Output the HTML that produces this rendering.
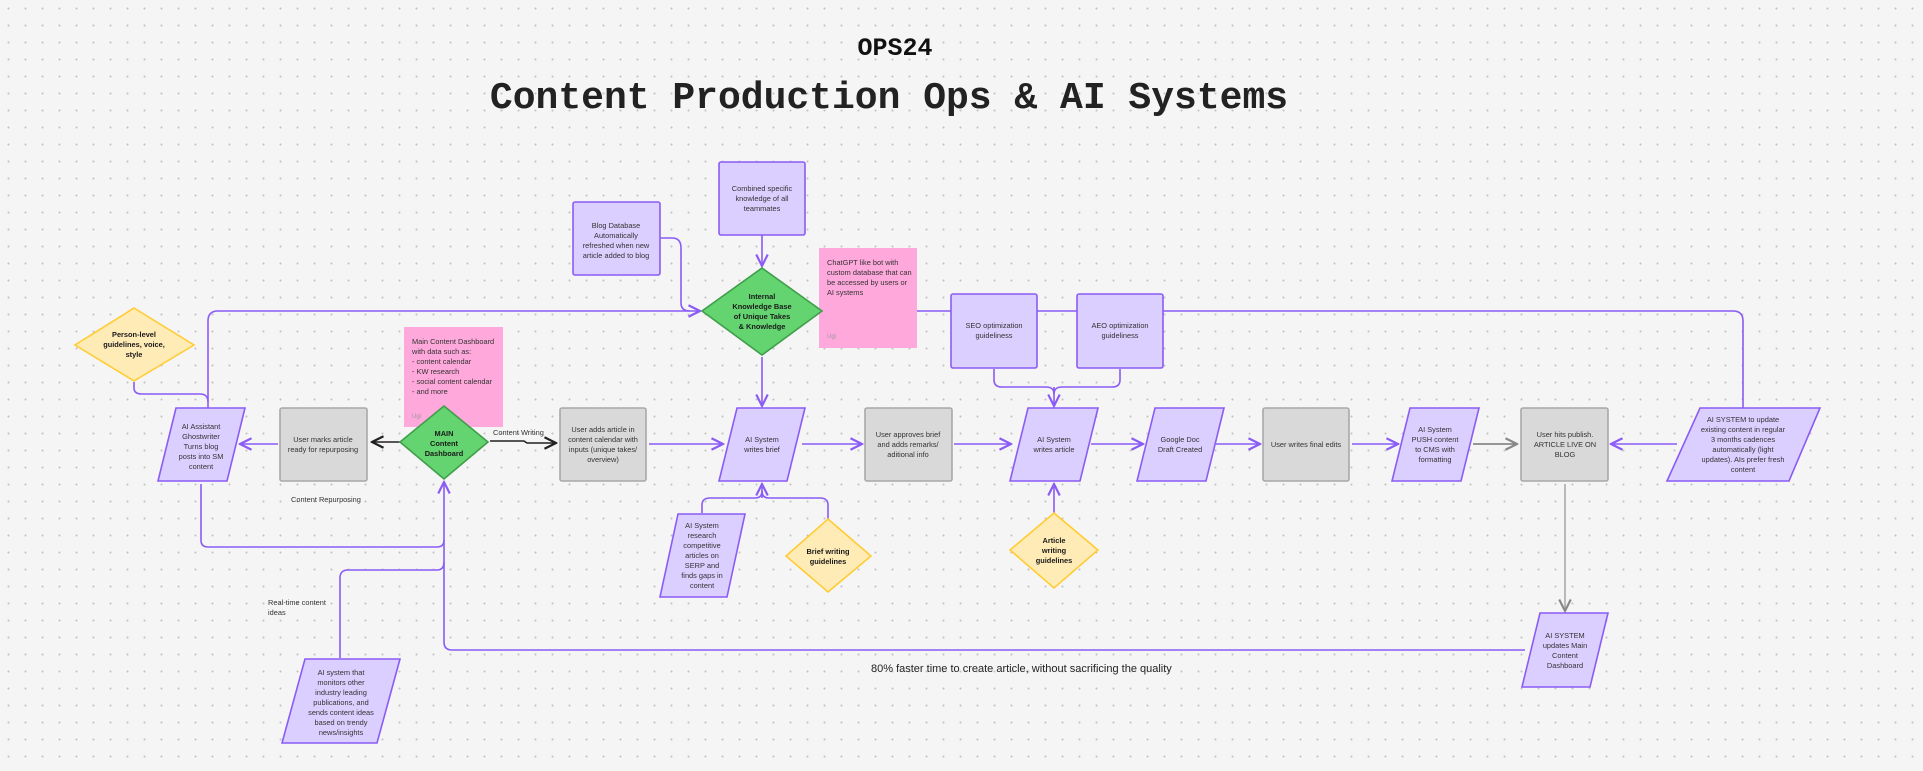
<!DOCTYPE html>
<html><head><meta charset="utf-8"><style>
html,body{margin:0;padding:0;}
body{width:1923px;height:771px;overflow:hidden;background:#f5f5f5;
background-image:radial-gradient(circle,#c4c4c4 0.9px,transparent 1.2px);background-size:17px 17px;}
svg{position:absolute;left:0;top:0;}
text{font-family:"Liberation Sans",sans-serif;fill:#333;}
</style></head><body>
<svg width="1923" height="771" viewBox="0 0 1923 771">
<defs>
<marker id="a" viewBox="0 0 10 10" refX="9" refY="5" markerWidth="9" markerHeight="9" orient="auto-start-reverse"><path d="M1 1 L9 5 L1 9" fill="none" stroke="#8a5cf5" stroke-width="1.5"/></marker>
<marker id="k" viewBox="0 0 10 10" refX="9" refY="5" markerWidth="9" markerHeight="9" orient="auto"><path d="M1 1 L9 5 L1 9" fill="none" stroke="#222" stroke-width="1.5"/></marker>
<marker id="g" viewBox="0 0 10 10" refX="9" refY="5" markerWidth="9" markerHeight="9" orient="auto"><path d="M1 1 L9 5 L1 9" fill="none" stroke="#888" stroke-width="1.5"/></marker>
</defs>
<text x="895" y="55" text-anchor="middle" font-weight="bold" font-size="25" style="font-family:'Liberation Mono',monospace;fill:#111">OPS24</text>
<text x="889" y="108" text-anchor="middle" font-weight="bold" font-size="38" style="font-family:'Liberation Mono',monospace;fill:#222">Content Production Ops &amp; AI Systems</text>

<g fill="none" stroke="#8a5cf5" stroke-width="1.6">
<path d="M208 408 V321 Q208 311 218 311 H700" marker-end="url(#a)"/>
<path d="M1743 408 V321 Q1743 311 1733 311 H824" marker-end="url(#a)"/>
<path d="M660 238 H672 Q681 238 681 248 V303 Q681 311 690 311" />
<path d="M762 235 V266" marker-end="url(#a)"/>
<path d="M762 357 V406" marker-end="url(#a)"/>
<path d="M134 382 V388 Q134 394 142 394 H200 Q208 394 208 402"/>
<path d="M278 444 H240" marker-end="url(#a)"/>
<path d="M649 444 H723" marker-end="url(#a)"/>
<path d="M802 444 H862" marker-end="url(#a)"/>
<path d="M954 444 H1011" marker-end="url(#a)"/>
<path d="M1091 444 H1143" marker-end="url(#a)"/>
<path d="M1216 444 H1260" marker-end="url(#a)"/>
<path d="M1352 444 H1398" marker-end="url(#a)"/>
<path d="M1677 444 H1611" marker-end="url(#a)"/>
<path d="M201 484 V540 Q201 547 208 547 H437 Q444 547 444 540 V482" marker-end="url(#a)"/>
<path d="M340 658 V578 Q340 570 348 570 H437 Q444 570 444 562"/>
<path d="M444 540 V642 Q444 650 452 650 H1525"/>
<path d="M702 513 V505 Q702 498 710 498 H755 Q762 498 762 491"/>
<path d="M828 519 V505 Q828 498 820 498 H769 Q762 498 762 491"/>
<path d="M762 498 V484" marker-end="url(#a)"/>
<path d="M994 369 V380 Q994 387 1002 387 H1046 Q1054 387 1054 394"/>
<path d="M1120 369 V380 Q1120 387 1112 387 H1062 Q1054 387 1054 394"/>
<path d="M1054 387 V406" marker-end="url(#a)"/>
<path d="M1054 513 V484" marker-end="url(#a)"/>
</g>
<path d="M1473 444 H1517" stroke="#777" stroke-width="1.6" fill="none" marker-end="url(#g)"/>
<path d="M1565 484 V611" stroke="#aaa" stroke-width="1.6" fill="none" marker-end="url(#g)"/>
<path d="M400 442 H372" stroke="#222" stroke-width="1.6" fill="none" marker-end="url(#k)"/>
<path d="M490 441 H524 L527 443 H556" stroke="#222" stroke-width="1.6" fill="none" marker-end="url(#k)"/>

<rect x="819" y="248" width="98" height="100" fill="#ffa8dc"/>
<rect x="404" y="327" width="99" height="100" fill="#ffa8dc"/>

<g stroke="#8a5cf5" stroke-width="1.6" fill="#dbcfff">
<rect x="573" y="202" width="87" height="73" rx="2"/>
<rect x="719" y="162" width="86" height="73" rx="2"/>
<rect x="951" y="294" width="86" height="74" rx="2"/>
<rect x="1077" y="294" width="86" height="74" rx="2"/>
<polygon points="176,408 245,408 227,481 158,481"/>
<polygon points="737,408 805,408 787,481 719,481"/>
<polygon points="1028,408 1098,408 1080,481 1010,481"/>
<polygon points="1155,408 1224,408 1206,481 1137,481"/>
<polygon points="1410,408 1479,408 1461,481 1392,481"/>
<polygon points="1700,408 1820,408 1789,481 1667,481"/>
<polygon points="1540,613 1608,613 1590,687 1522,687"/>
<polygon points="678,514 745,514 727,597 660,597"/>
<polygon points="305,659 400,659 377,743 282,743"/>
</g>
<g stroke="#a8a8a8" stroke-width="1.6" fill="#d9d9d9">
<rect x="280" y="408" width="87" height="73" rx="2"/>
<rect x="560" y="408" width="86" height="73" rx="2"/>
<rect x="865" y="408" width="87" height="73" rx="2"/>
<rect x="1263" y="408" width="86" height="73" rx="2"/>
<rect x="1521" y="408" width="87" height="73" rx="2"/>
</g>
<g stroke="#3f9e4a" stroke-width="1.6" fill="#63d46f">
<polygon points="762,268 822,311 762,355 702,311"/>
<polygon points="444,406 488,442 444,479 400,442"/>
</g>
<g stroke="#ffcc33" stroke-width="1.6" fill="#ffebb5">
<polygon points="134,308 194,345 134,381 75,345"/>
<polygon points="828,519 871,556 828,592 786,556"/>
<polygon points="1054,513 1098,550 1054,588 1010,550"/>
</g>

<g font-size="7.4" text-anchor="middle">
<text x="616" y="228"><tspan x="616">Blog Database</tspan><tspan x="616" dy="10">Automatically</tspan><tspan x="616" dy="10">refreshed when new</tspan><tspan x="616" dy="10">article added to blog</tspan></text>
<text x="762" y="191"><tspan x="762">Combined specific</tspan><tspan x="762" dy="10">knowledge of all</tspan><tspan x="762" dy="10">teammates</tspan></text>
<text x="762" y="299" font-weight="bold" style="fill:#1a1a1a"><tspan x="762">Internal</tspan><tspan x="762" dy="10">Knowledge Base</tspan><tspan x="762" dy="10">of Unique Takes</tspan><tspan x="762" dy="10">&amp; Knowledge</tspan></text>
<text x="994" y="328"><tspan x="994">SEO optimization</tspan><tspan x="994" dy="10">guideliness</tspan></text>
<text x="1120" y="328"><tspan x="1120">AEO optimization</tspan><tspan x="1120" dy="10">guideliness</tspan></text>
<text x="134" y="337" font-weight="bold" style="fill:#1a1a1a"><tspan x="134">Person-level</tspan><tspan x="134" dy="10">guidelines, voice,</tspan><tspan x="134" dy="10">style</tspan></text>
<text x="444" y="436" font-weight="bold" style="fill:#1a1a1a"><tspan x="444">MAIN</tspan><tspan x="444" dy="10">Content</tspan><tspan x="444" dy="10">Dashboard</tspan></text>
<text x="201" y="429"><tspan x="201">AI Assistant</tspan><tspan x="201" dy="10">Ghostwriter</tspan><tspan x="201" dy="10">Turns blog</tspan><tspan x="201" dy="10">posts into SM</tspan><tspan x="201" dy="10">content</tspan></text>
<text x="323" y="442"><tspan x="323">User marks article</tspan><tspan x="323" dy="10">ready for repurposing</tspan></text>
<text x="603" y="432"><tspan x="603">User adds article in</tspan><tspan x="603" dy="10">content calendar with</tspan><tspan x="603" dy="10">inputs (unique takes/</tspan><tspan x="603" dy="10">overview)</tspan></text>
<text x="762" y="442"><tspan x="762">AI System</tspan><tspan x="762" dy="10">writes brief</tspan></text>
<text x="908" y="437"><tspan x="908">User approves brief</tspan><tspan x="908" dy="10">and adds remarks/</tspan><tspan x="908" dy="10">aditional info</tspan></text>
<text x="1054" y="442"><tspan x="1054">AI System</tspan><tspan x="1054" dy="10">writes article</tspan></text>
<text x="1180" y="442"><tspan x="1180">Google Doc</tspan><tspan x="1180" dy="10">Draft Created</tspan></text>
<text x="1306" y="447">User writes final edits</text>
<text x="1435" y="432"><tspan x="1435">AI System</tspan><tspan x="1435" dy="10">PUSH content</tspan><tspan x="1435" dy="10">to CMS with</tspan><tspan x="1435" dy="10">formatting</tspan></text>
<text x="1565" y="437"><tspan x="1565">User hits publish.</tspan><tspan x="1565" dy="10">ARTICLE LIVE ON</tspan><tspan x="1565" dy="10">BLOG</tspan></text>
<text x="1743" y="422"><tspan x="1743">AI SYSTEM to update</tspan><tspan x="1743" dy="10">existing content in regular</tspan><tspan x="1743" dy="10">3 months cadences</tspan><tspan x="1743" dy="10">automatically (light</tspan><tspan x="1743" dy="10">updates). AIs prefer fresh</tspan><tspan x="1743" dy="10">content</tspan></text>
<text x="1565" y="638"><tspan x="1565">AI SYSTEM</tspan><tspan x="1565" dy="10">updates Main</tspan><tspan x="1565" dy="10">Content</tspan><tspan x="1565" dy="10">Dashboard</tspan></text>
<text x="702" y="528"><tspan x="702">AI System</tspan><tspan x="702" dy="10">research</tspan><tspan x="702" dy="10">competitive</tspan><tspan x="702" dy="10">articles on</tspan><tspan x="702" dy="10">SERP and</tspan><tspan x="702" dy="10">finds gaps in</tspan><tspan x="702" dy="10">content</tspan></text>
<text x="828" y="554" font-weight="bold" style="fill:#1a1a1a"><tspan x="828">Brief writing</tspan><tspan x="828" dy="10">guidelines</tspan></text>
<text x="1054" y="543" font-weight="bold" style="fill:#1a1a1a"><tspan x="1054">Article</tspan><tspan x="1054" dy="10">writing</tspan><tspan x="1054" dy="10">guidelines</tspan></text>
<text x="341" y="675"><tspan x="341">AI system that</tspan><tspan x="341" dy="10">monitors other</tspan><tspan x="341" dy="10">industry leading</tspan><tspan x="341" dy="10">publications, and</tspan><tspan x="341" dy="10">sends content ideas</tspan><tspan x="341" dy="10">based on trendy</tspan><tspan x="341" dy="10">news/insights</tspan></text>
</g>
<g font-size="7.4">
<text x="827" y="265"><tspan x="827">ChatGPT like bot with</tspan><tspan x="827" dy="10">custom database that can</tspan><tspan x="827" dy="10">be accessed by users or</tspan><tspan x="827" dy="10">AI systems</tspan></text>
<text x="827" y="338" font-size="6" style="fill:#999">Ugi</text>
<text x="412" y="344"><tspan x="412">Main Content Dashboard</tspan><tspan x="412" dy="10">with data such as:</tspan><tspan x="412" dy="10">- content calendar</tspan><tspan x="412" dy="10">- KW research</tspan><tspan x="412" dy="10">- social content calendar</tspan><tspan x="412" dy="10">- and more</tspan></text>
<text x="412" y="418" font-size="6" style="fill:#999">Ugi</text>
<text x="493" y="435">Content Writing</text>
<text x="291" y="502">Content Repurposing</text>
<text x="268" y="605"><tspan x="268">Real-time content</tspan><tspan x="268" dy="10">ideas</tspan></text>
<text x="871" y="672" font-size="11" style="fill:#222">80% faster time to create article, without sacrificing the quality</text>
</g>
</svg>
</body></html>
